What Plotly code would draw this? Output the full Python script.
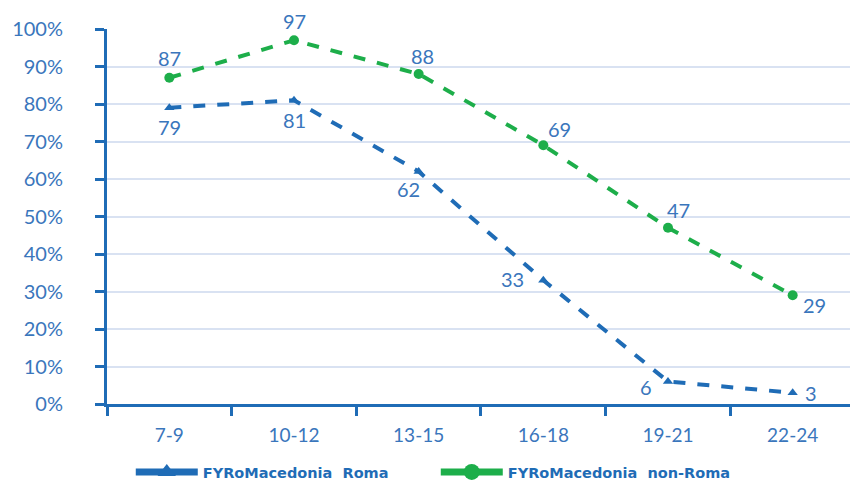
import plotly.graph_objects as go

age_groups = ["7-9", "10-12", "13-15", "16-18", "19-21", "22-24"]
roma = [79, 81, 62, 33, 6, 3]
non_roma = [87, 97, 88, 69, 47, 29]

# pixel offsets (right, down) of each value label from its marker
roma_label_offsets = [(0, 19), (0, 20), (-10, 17), (-31, -1), (-22, 5), (18, 0)]
non_roma_label_offsets = [(0, -20), (0, -19), (4, -18), (16, -16), (11, -18), (22, 10)]

BLUE = "#1F6CB6"
GREEN = "#1DAE4A"
TEXT = "#3A76BC"
FONT = "Lato, 'Open Sans', sans-serif"

series = [
    ("FYRoMacedonia  Roma", roma, roma_label_offsets, BLUE, "triangle-up", 9),
    ("FYRoMacedonia  non-Roma", non_roma, non_roma_label_offsets, GREEN, "circle", 10),
]

fig = go.Figure()
for name, values, offsets, color, symbol, msize in series:
    fig.add_trace(go.Scatter(
        x=age_groups, y=values, name=name, legendgroup=name, showlegend=False,
        mode="lines+markers",
        line=dict(color=color, width=4, dash="dash"),
        marker=dict(symbol=symbol, size=msize, color=color),
        cliponaxis=False,
    ))
    # legend key: solid thick line with the series marker
    fig.add_trace(go.Scatter(
        x=[None], y=[None], name=name, legendgroup=name,
        mode="lines+markers",
        line=dict(color=color, width=7),
        marker=dict(symbol=symbol, size=msize + 8, color=color),
    ))
    for cat, val, (dx, dy) in zip(age_groups, values, offsets):
        fig.add_annotation(
            x=cat, y=val, text=str(val), showarrow=False,
            xanchor="center", yanchor="middle", xshift=dx, yshift=-dy,
            font=dict(color=TEXT, size=20, family=FONT),
        )

fig.update_layout(
    width=850, height=488,
    margin=dict(l=107, r=0, t=29, b=84, autoexpand=False),
    plot_bgcolor="white", paper_bgcolor="white",
    font=dict(family=FONT, color=TEXT),
    showlegend=True,
    legend=dict(
        orientation="h", x=0.032, y=0.0, yref="container",
        xanchor="left", yanchor="bottom",
        font=dict(size=14.5, color=BLUE, family="'DejaVu Sans', sans-serif", weight="bold"),
        entrywidth=228, itemwidth=62,
    ),
)
fig.update_xaxes(
    type="category", range=[-0.5, 5.46], showline=True, linecolor=BLUE, linewidth=3,
    ticks="outside", tickson="boundaries", ticklen=9, tickwidth=3, tickcolor=BLUE,
    ticklabelstandoff=12, automargin=False,
    tickfont=dict(size=19, color=TEXT, family=FONT), showgrid=False, zeroline=False,
)
fig.update_yaxes(
    range=[0, 100], dtick=10, ticksuffix="%", showline=True, linecolor=BLUE, linewidth=3,
    ticks="outside", ticklen=9, tickwidth=3, tickcolor=BLUE,
    ticklabelstandoff=28, automargin=False,
    tickfont=dict(size=20, color=TEXT, family=FONT),
    showgrid=True, gridcolor="#D9E2F2", gridwidth=1.5, zeroline=False,
)

fig.write_html("out.html")
